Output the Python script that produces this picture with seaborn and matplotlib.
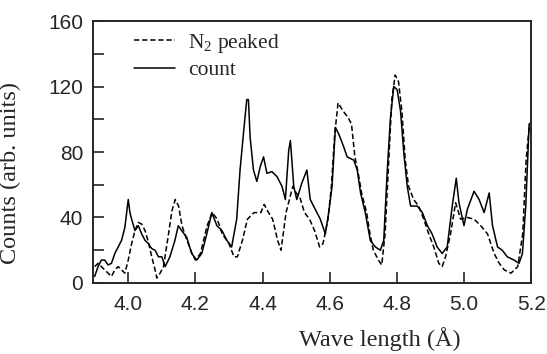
import pandas as pd
import matplotlib.pyplot as plt
import seaborn as sns

# "count" curve
count_wl = [3.900, 3.910, 3.920, 3.930, 3.940, 3.950, 3.960, 3.970, 3.980, 3.990,
            4.000, 4.005, 4.010, 4.020, 4.030, 4.040, 4.050, 4.060, 4.070, 4.080,
            4.090, 4.100, 4.110, 4.124, 4.139, 4.149, 4.159, 4.174, 4.189, 4.204,
            4.219, 4.234, 4.249, 4.264, 4.279, 4.294, 4.308, 4.323, 4.333, 4.343,
            4.353, 4.358, 4.363, 4.373, 4.383, 4.393, 4.403, 4.413, 4.428, 4.443,
            4.458, 4.468, 4.478, 4.483, 4.493, 4.502, 4.517, 4.532, 4.542, 4.557,
            4.572, 4.587, 4.597, 4.607, 4.617, 4.627, 4.642, 4.652, 4.672, 4.682,
            4.692, 4.706, 4.721, 4.736, 4.751, 4.761, 4.771, 4.781, 4.791, 4.801,
            4.811, 4.821, 4.831, 4.841, 4.861, 4.876, 4.891, 4.905, 4.920, 4.935,
            4.950, 4.965, 4.977, 4.985, 5.000, 5.010, 5.030, 5.045, 5.060, 5.075,
            5.085, 5.100, 5.114, 5.129, 5.149, 5.164, 5.174, 5.184, 5.194, 5.200]
count_val = [4, 10, 14, 14, 11, 12, 18, 22, 26, 34,
             51, 43, 39, 32, 35, 30, 26, 24, 21, 20,
             16, 16, 10, 16, 26, 35, 32, 28, 18, 14,
             18, 30, 43, 35, 32, 26, 22, 39, 69, 91,
             112, 112, 89, 69, 62, 71, 77, 67, 68, 65,
             59, 51, 81, 87, 59, 51, 61, 69, 51, 45,
             39, 30, 43, 59, 95, 91, 83, 77, 75, 69,
             55, 43, 26, 22, 20, 26, 67, 101, 120, 118,
             105, 79, 59, 47, 47, 43, 35, 30, 22, 18,
             22, 47, 64, 49, 35, 45, 56, 51, 43, 55,
             35, 22, 20, 16, 14, 12, 18, 47, 97, 98]

# "N2 peaked" curve
n2_wl = [3.900, 3.910, 3.920, 3.930, 3.940, 3.950, 3.960, 3.970, 3.980, 3.990,
         4.000, 4.010, 4.020, 4.030, 4.040, 4.050, 4.060, 4.070, 4.080, 4.085,
         4.095, 4.105, 4.120, 4.130, 4.140, 4.150, 4.160, 4.175, 4.190, 4.200,
         4.215, 4.235, 4.250, 4.265, 4.280, 4.300, 4.315, 4.325, 4.340, 4.355,
         4.375, 4.395, 4.405, 4.415, 4.430, 4.445, 4.455, 4.470, 4.490, 4.500,
         4.510, 4.525, 4.540, 4.555, 4.570, 4.580, 4.595, 4.605, 4.615, 4.625,
         4.640, 4.655, 4.665, 4.675, 4.685, 4.695, 4.710, 4.720, 4.730, 4.745,
         4.755, 4.765, 4.775, 4.785, 4.795, 4.805, 4.815, 4.825, 4.835, 4.850,
         4.865, 4.880, 4.895, 4.910, 4.925, 4.935, 4.945, 4.960, 4.975, 4.990,
         5.010, 5.030, 5.050, 5.070, 5.090, 5.105, 5.120, 5.140, 5.160, 5.175,
         5.185, 5.195, 5.200]
n2_val = [10, 12, 10, 8, 6, 4, 8, 10, 8, 6,
          14, 24, 32, 37, 36, 32, 25, 16, 8, 3,
          6, 10, 30, 44, 51, 47, 35, 26, 18, 14,
          18, 35, 43, 39, 30, 24, 16, 16, 26, 39,
          43, 43, 48, 44, 39, 26, 20, 43, 59, 55,
          53, 43, 39, 32, 22, 24, 39, 59, 91, 110,
          105, 101, 97, 77, 67, 55, 43, 30, 20, 14,
          11, 30, 71, 112, 127, 123, 105, 75, 59, 51,
          47, 39, 30, 22, 12, 10, 16, 30, 49, 39,
          40, 39, 35, 30, 18, 12, 8, 6, 10, 30,
          75, 97, 98]

x_ticks = [4.0, 4.2, 4.4, 4.6, 4.8, 5.0, 5.2]
y_ticks = [0, 40, 80, 120, 160]

sns.set_style("ticks")
plt.rcParams['font.family'] = ['Liberation Sans', 'DejaVu Sans']
plt.rcParams['mathtext.default'] = 'regular'
serif = ["Liberation Serif", "DejaVu Serif"]

fig = plt.figure(figsize=(5.47, 3.54), dpi=100)
ax = fig.add_axes([0.170, 0.2006, 0.801, 0.740])

sns.lineplot(x=n2_wl, y=n2_val, ax=ax, color="black", linewidth=1.1,
             linestyle=(0, (3.5, 1.8)), estimator=None, sort=False,
             label="N$_2$ peaked")
sns.lineplot(x=count_wl, y=count_val, ax=ax, color="black", linewidth=1.1,
             estimator=None, sort=False, label="count")

ax.set_xlim(3.895, 5.2)
ax.set_ylim(0, 160)
ax.set_xticks(x_ticks)
ax.set_xticklabels([f"{t:.1f}" for t in x_ticks])
ax.set_yticks(y_ticks)
ax.set_yticks([20, 60, 100, 140], minor=True)
ax.tick_params(which="both", direction="in", length=8, width=1.2,
               labelsize=15, top=False, right=False)
ax.tick_params(axis="x", pad=9)
ax.tick_params(axis="y", pad=7)
for s in ax.spines.values():
    s.set_linewidth(1.4)
    s.set_visible(True)

ax.set_xlabel("Wave length (Å)", family=serif, fontsize=17.5)
ax.xaxis.set_label_coords(0.655, -0.17)
ax.set_ylabel("Counts (arb. units)", family=serif, fontsize=17.5)
ax.yaxis.set_label_coords(-0.165, 0.42)

leg = ax.legend(loc="upper left", frameon=False, handlelength=1.9,
                prop={"family": serif, "size": 15.5},
                borderaxespad=0.1, labelspacing=0.25, handletextpad=0.6,
                bbox_to_anchor=(0.07, 1.0))

fig.savefig("out.png", dpi=100)
